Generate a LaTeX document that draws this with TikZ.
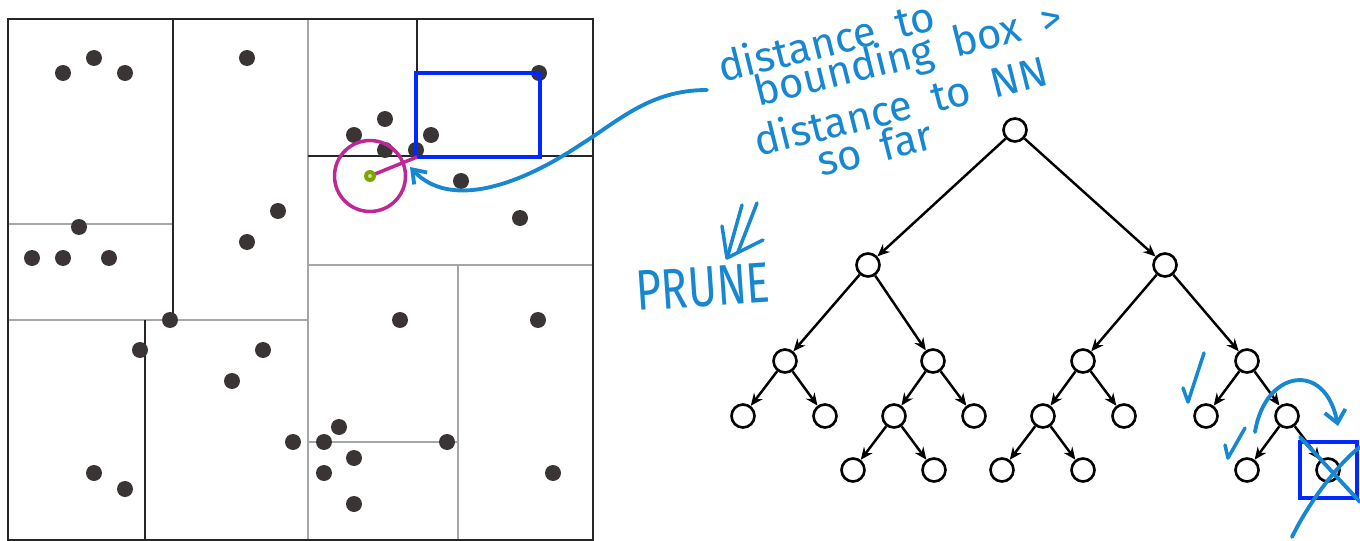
\documentclass[tikz,border=0pt]{standalone}
\usepackage{fontspec}
\newfontfamily\handfont{Fira Sans}
\usetikzlibrary{arrows.meta, positioning}
\definecolor{inkblue}{RGB}{22,135,208}
\definecolor{boxblue}{RGB}{0,40,255}
\definecolor{querymag}{RGB}{190,40,150}
\definecolor{querygreen}{RGB}{125,165,0}
\definecolor{dotgray}{RGB}{58,52,52}
\newcommand{\wsp}{\hspace{0.5em}}

\begin{document}
\begin{tikzpicture}[x=0.02cm, y=-0.02cm,
  split/.style={line width=0.9pt, draw=gray!70},
  splitdark/.style={line width=0.9pt, draw=black!85},
  ink/.style={draw=inkblue, line width=2.2pt, line cap=round, line join=round},
  hand/.style={text=inkblue, font=\handfont\fontsize{24}{28}\selectfont, inner sep=0pt, anchor=base west, rotate=14},
  prunetext/.style={text=inkblue, font=\handfont\fontsize{25}{30}\selectfont, inner sep=0pt, anchor=base west, rotate=4, yscale=1.3},
  tnode/.style={draw, circle, line width=1.5pt, minimum size=0.46cm, inner sep=0pt},
  tedge/.style={-{Stealth[length=7pt, width=6pt]}, line width=1.4pt}
]
  \useasboundingbox (0,0) rectangle (1360,541);

  % kd-tree partition of the points
  \draw[split] (8,224) -- (173,224);
  \draw[split] (308,19) -- (308,540);
  \draw[split] (8,320) -- (308,320);
  \draw[split] (308,265) -- (593,265);
  \draw[split] (458,265) -- (458,540);
  \draw[split] (308,442) -- (458,442);
  \draw[splitdark] (173,19) -- (173,320);
  \draw[splitdark] (145,320) -- (145,540);
  \draw[splitdark] (308,156) -- (593,156);
  \draw[splitdark] (417,19) -- (417,156);
  \draw[splitdark] (8,19) rectangle (593,540);

  \foreach \px/\py in {63/73, 94/58, 125/73, 247/58, 79/227, 32/258, 63/258, 109/258,
      278/211, 247/242, 539/73, 385/119, 354/135, 431/135, 385/150, 416/150,
      461/181, 520/218, 170/320, 140/350, 263/350, 232/381, 293/442, 94/473,
      125/489, 400/320, 538/320, 339/427, 324/442, 447/442, 354/458, 324/473,
      553/473, 354/504}
    \fill[dotgray] (\px,\py) circle[radius=0.16cm];

  % query point and bounding box
  \coordinate (query) at (370,176);
  \coordinate (bbox sw) at (417,157);
  \coordinate (bbox hit) at (410,167);
  \draw[boxblue, line width=2.5pt] (416,73) rectangle (540,157);
  \draw[querymag, line width=2pt] (query) -- (bbox sw);
  \draw[querymag, line width=2pt] (query) circle[radius=0.71cm];
  \fill[querygreen] (query) circle[radius=0.12cm];
  \fill[querygreen!40!white] (query) circle[radius=0.04cm];

  % handwritten notes
  \node[hand] (note1) at (722,83) {distance\wsp to};
  \node[hand] (note2) at (758,107) {bounding\wsp box\wsp >};
  \node[hand] (note3) at (758,157) {distance\wsp to\wsp NN};
  \node[hand] (note4) at (821,177) {so\wsp far};
  \node[prunetext] (prune) at (637,311) {PRUNE};
  \coordinate (annot) at (707,90);
  \draw[ink, -{Straight Barb[length=7pt, width=10pt]}] (annot)
    .. controls (650,90) and (620,120) .. (580,145)
    .. controls (520,185) and (450,210) .. (bbox hit);
  \draw[ink, line width=2pt] (742,205) -- (728,255);
  \draw[ink, line width=2pt] (757,203) -- (738,252);
  \draw[ink, line width=2pt] (722,226) -- (727,258) -- (763,240);

  % search tree
  \node[tnode] (root) at (1015,130) {};
  \node[tnode] (l) at (868,265) {};
  \node[tnode] (r) at (1165,265) {};
  \node[tnode] (ll) at (785,361) {};
  \node[tnode] (lr) at (933,361) {};
  \node[tnode] (rl) at (1083,361) {};
  \node[tnode] (rr) at (1247,361) {};
  \node[tnode] (lll) at (743,416) {};
  \node[tnode] (llr) at (825,416) {};
  \node[tnode] (lrl) at (894,416) {};
  \node[tnode] (lrr) at (974,416) {};
  \node[tnode] (rll) at (1043,416) {};
  \node[tnode] (rlr) at (1124,416) {};
  \node[tnode] (rrl) at (1206,416) {};
  \node[tnode] (rrr) at (1287,416) {};
  \node[tnode] (lrll) at (853,470) {};
  \node[tnode] (lrlr) at (934,470) {};
  \node[tnode] (rlll) at (1002,470) {};
  \node[tnode] (rllr) at (1083,470) {};
  \node[tnode] (rrrl) at (1247,470) {};
  \node[tnode] (rrrr) at (1328,470) {};
  \foreach \p/\c in {root/l, root/r, l/ll, l/lr, r/rl, r/rr, ll/lll, ll/llr,
      lr/lrl, lr/lrr, rl/rll, rl/rlr, rr/rrl, rr/rrr, lrl/lrll, lrl/lrlr,
      rll/rlll, rll/rllr, rrr/rrrl, rrr/rrrr}
    \draw[tedge] (\p) -- (\c);

  % marks on the tree
  \draw[ink, line width=2pt] (1183,388) -- (1188,402) -- (1204,353);
  \draw[ink, line width=2pt] (1225,445) -- (1228,458) -- (1245,428);
  \coordinate (hop start) at (1255,432);
  \coordinate (hop end) at (1338,426);
  \draw[ink, -{Straight Barb[length=7pt, width=12pt]}] (hop start)
    .. controls (1265,370) and (1325,360) .. (hop end);
  \draw[boxblue, line width=2.5pt] (1300,442) rectangle (1357,498);
  \draw[ink] (1300,437) -- (1360,502);
  \draw[ink] (1292,537) .. controls (1310,500) and (1340,462) .. (1360,447);
\end{tikzpicture}
\end{document}
